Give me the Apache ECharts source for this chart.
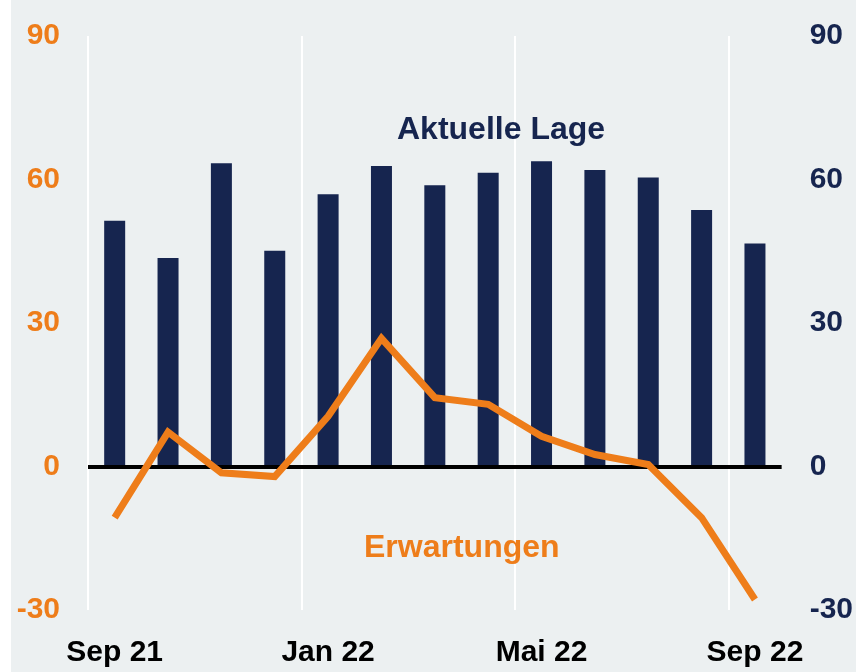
<!DOCTYPE html>
<html>
<head>
<meta charset="utf-8">
<script src="https://cdn.jsdelivr.net/npm/echarts@6/dist/echarts.min.js"></script>
<style>
  html, body { margin: 0; padding: 0; background: #ffffff; }
  #main { position: absolute; left: 11px; top: 0; width: 845px; height: 672px; }
</style>
</head>
<body>
<div id="main"></div>
<script>
    // Monate
    var months = ['Sep 21', 'Okt 21', 'Nov 21', 'Dez 21', 'Jan 22', 'Feb 22', 'Mär 22',
                  'Apr 22', 'Mai 22', 'Jun 22', 'Jul 22', 'Aug 22', 'Sep 22'];
    // Aktuelle Lage (Balken, rechte Achse)
    var lage = [51.4, 43.6, 63.4, 45.1, 56.9, 62.8, 58.8, 61.4, 63.8, 62.0, 60.4, 53.6, 46.6];
    // Erwartungen (Linie, linke Achse)
    var erwartungen = [-10.7, 7.2, -1.3, -2.1, 10.5, 26.8, 14.4, 13.0, 6.3, 2.5, 0.4, -10.7, -27.8];
    var yMin = -30, yMax = 90, yStep = 30;

    var navy = '#16254f',
        orange = '#ee7d1a',
        font = 'Liberation Sans';

    // Plotbereich (px, relativ zum div)
    var gLeft = 77, gRight = 74, gTop = 36, gBottom = 62,
        plotW = 845 - gLeft - gRight;
    // senkrechte Hilfslinien alle 4 Monate (Grenzen 0, 4, 8, 12),
    // eigene Werteachse, die nur bis zur Grenze 12 reicht
    var gridStep = 4, gridMax = 12;

    var chart = echarts.init(document.getElementById('main')),
        option = {
            backgroundColor: '#ecf0f1',
            animation: false,
            grid: [
                { left: gLeft, right: gRight, top: gTop, bottom: gBottom },
                { left: gLeft, width: plotW * gridMax / months.length, top: gTop, bottom: gBottom }
            ],
            xAxis: [
                {
                    type: 'category',
                    data: months,
                    axisLine: { show: false },
                    axisTick: { show: false },
                    splitLine: { show: false },
                    axisLabel: {
                        interval: 3,
                        color: '#000',
                        fontFamily: font,
                        fontWeight: 'bold',
                        fontSize: 30,
                        margin: 28
                    }
                },
                {
                    type: 'value',
                    gridIndex: 1,
                    min: 0, max: gridMax, interval: gridStep,
                    axisLine: { show: false },
                    axisTick: { show: false },
                    axisLabel: { show: false },
                    splitLine: { show: true, lineStyle: { color: '#ffffff', width: 2 } }
                }
            ],
            yAxis: [
                {
                    type: 'value',
                    min: yMin, max: yMax, interval: yStep,
                    axisLine: { show: false },
                    axisTick: { show: false },
                    splitLine: { show: false },
                    axisLabel: {
                        color: orange, fontFamily: font, fontWeight: 'bold',
                        fontSize: 30, margin: 28
                    }
                },
                {
                    type: 'value',
                    position: 'right',
                    min: yMin, max: yMax, interval: yStep,
                    axisLine: { show: false },
                    axisTick: { show: false },
                    splitLine: { show: false },
                    axisLabel: {
                        color: navy, fontFamily: font, fontWeight: 'bold',
                        fontSize: 30, margin: 28
                    }
                },
                {
                    type: 'value',
                    gridIndex: 1,
                    show: false
                }
            ],
            graphic: [
                {
                    type: 'text', left: 386, top: 114, z: 100,
                    style: { text: 'Aktuelle Lage', fill: navy, font: 'bold 32px "Liberation Sans"' }
                },
                {
                    type: 'text', left: 353, top: 532, z: 100,
                    style: { text: 'Erwartungen', fill: orange, font: 'bold 32px "Liberation Sans"' }
                }
            ],
            series: [
                {
                    name: 'Aktuelle Lage',
                    type: 'bar',
                    yAxisIndex: 1,
                    data: lage,
                    barWidth: 21,
                    itemStyle: { color: navy },
                    markLine: {
                        silent: true,
                        symbol: 'none',
                        label: { show: false },
                        lineStyle: { color: '#000', width: 4, type: 'solid' },
                        data: [{ yAxis: 0 }]
                    }
                },
                {
                    name: 'Erwartungen',
                    type: 'line',
                    yAxisIndex: 0,
                    data: erwartungen,
                    showSymbol: false,
                    z: 5,
                    lineStyle: { color: orange, width: 7, join: 'miter' }
                }
            ]
        };
    chart.setOption(option);
</script>
</body>
</html>
